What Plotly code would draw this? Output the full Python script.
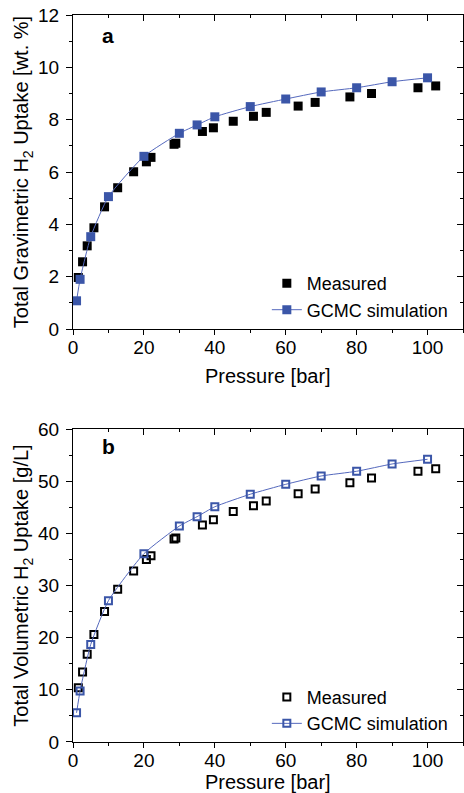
import plotly.graph_objects as go

# ---------------- data ----------------
meas_pressure = [1.5, 2.7, 4.0, 5.9, 8.9, 12.6, 17.1, 20.7, 22.0, 28.5, 29.0,
                 36.5, 39.6, 45.2, 50.9, 54.5, 63.5, 68.3, 78.1, 84.2, 97.3, 102.3]
meas_grav = [1.97, 2.57, 3.18, 3.87, 4.67, 5.40, 6.01, 6.39, 6.56, 7.06, 7.10,
             7.55, 7.69, 7.94, 8.13, 8.28, 8.52, 8.66, 8.87, 9.00, 9.22, 9.29]
meas_vol = [10.4, 13.4, 16.8, 20.6, 25.0, 29.3, 32.8, 35.0, 35.7, 38.9, 39.1,
            41.6, 42.6, 44.2, 45.3, 46.2, 47.6, 48.5, 49.7, 50.6, 51.9, 52.4]

sim_pressure = [1, 2, 5, 10, 20, 30, 35, 40, 50, 60, 70, 80, 90, 100]
sim_grav = [1.08, 1.90, 3.53, 5.06, 6.60, 7.48, 7.80, 8.11, 8.50, 8.79, 9.06, 9.22, 9.45, 9.60]
sim_vol = [5.6, 9.8, 18.7, 27.1, 36.1, 41.4, 43.2, 45.1, 47.5, 49.4, 51.0, 51.9, 53.3, 54.2]

x_range = [0, 110]
grav_range = [0, 12]
vol_range = [0, 60]

x_title = "Pressure [bar]"
grav_title = "Total Gravimetric H<sub>2</sub> Uptake [wt. %]"
vol_title = "Total Volumetric H<sub>2</sub> Uptake [g/L]"

# ---------------- styles ----------------
FONT = "Liberation Sans, Arial, sans-serif"
BLUE = "#3b56a8"
BLUE_LINE = "#5468bd"
TICKFONT = dict(family=FONT, size=19, color="black")
TITLEFONT = dict(family=FONT, size=20, color="black")

fig = go.Figure()

# Top panel (a)
fig.add_trace(go.Scatter(x=meas_pressure, y=meas_grav, mode="markers", name="Measured",
                         marker=dict(symbol="square", size=9, color="black", line=dict(width=0)),
                         xaxis="x", yaxis="y", legend="legend"))
fig.add_trace(go.Scatter(x=sim_pressure, y=sim_grav, mode="lines+markers", name="GCMC simulation",
                         line=dict(color=BLUE_LINE, width=1, shape="spline", smoothing=0.5),
                         marker=dict(symbol="square", size=9, color=BLUE, line=dict(width=0)),
                         xaxis="x", yaxis="y", legend="legend"))

# Bottom panel (b)
fig.add_trace(go.Scatter(x=meas_pressure, y=meas_vol, mode="markers", name="Measured",
                         marker=dict(symbol="square-open", size=7, color="black", line=dict(width=2)),
                         xaxis="x2", yaxis="y2", legend="legend2"))
fig.add_trace(go.Scatter(x=sim_pressure, y=sim_vol, mode="lines+markers", name="GCMC simulation",
                         line=dict(color=BLUE_LINE, width=1, shape="spline", smoothing=0.5),
                         marker=dict(symbol="square-open", size=7, color=BLUE, line=dict(width=2)),
                         xaxis="x2", yaxis="y2", legend="legend2"))

# dummy traces for mirrored inside-tick axes
for xa, ya in (("x3", "y3"), ("x4", "y4")):
    fig.add_trace(go.Scatter(x=[None], y=[None], xaxis=xa, yaxis=ya, showlegend=False,
                             hoverinfo="skip"))

top_dom = [0.568, 1.0]
bot_dom = [0.0, 0.4305]

def main_x(domain_anchor):
    return dict(range=x_range, domain=[0, 1], anchor=domain_anchor, showline=True,
                linecolor="black", linewidth=1.3, mirror=True, showgrid=False, zeroline=False,
                ticks="outside", ticklen=5, tickwidth=1.2, tickcolor="black",
                dtick=20, tick0=0, tickfont=TICKFONT, automargin=False, ticklabelstandoff=-4,
                minor=dict(ticks="outside", ticklen=3, tickwidth=1.2, tickcolor="black", dtick=10, tick0=0))

def main_y(domain, anchor, rng, dtick, minor, title):
    return dict(range=rng, domain=domain, anchor=anchor, showline=True,
                linecolor="black", linewidth=1.3, mirror=True, showgrid=False, zeroline=False,
                ticks="outside", ticklen=6, tickwidth=1.2, tickcolor="black",
                dtick=dtick, tick0=0, tickfont=TICKFONT, ticklabelstandoff=3, automargin=False,
                minor=dict(ticks="outside", ticklen=3, tickwidth=1.2, tickcolor="black", dtick=minor, tick0=0),
                title=dict(text=title, font=TITLEFONT, standoff=3))

def mirror_x(over, anchor):
    return dict(range=x_range, overlaying=over, anchor=anchor, side="top", showline=False,
                showgrid=False, zeroline=False, showticklabels=False, automargin=False,
                ticks="inside", ticklen=6, tickwidth=1.2, tickcolor="black", dtick=20, tick0=0,
                minor=dict(ticks="inside", ticklen=3, tickwidth=1.2, tickcolor="black", dtick=10, tick0=0))

def mirror_y(over, anchor, rng, dtick, minor):
    return dict(range=rng, overlaying=over, anchor=anchor, side="right", showline=False,
                showgrid=False, zeroline=False, showticklabels=False, automargin=False,
                ticks="inside", ticklen=6, tickwidth=1.2, tickcolor="black", dtick=dtick, tick0=0,
                minor=dict(ticks="inside", ticklen=3, tickwidth=1.2, tickcolor="black", dtick=minor, tick0=0))

fig.update_layout(
    width=464, height=793,
    margin=dict(l=73, r=1, t=15, b=51, autoexpand=False),
    paper_bgcolor="white", plot_bgcolor="white",
    font=dict(family=FONT, color="black"),
    xaxis=main_x("y"),
    yaxis=main_y(top_dom, "x", grav_range, 2, 1, grav_title),
    xaxis2=main_x("y2"),
    yaxis2=main_y(bot_dom, "x2", vol_range, 10, 5, vol_title),
    xaxis3=mirror_x("x", "y3"),
    yaxis3=dict(mirror_y("y", "x3", grav_range, 2, 1), domain=top_dom),
    xaxis4=mirror_x("x2", "y4"),
    yaxis4=dict(mirror_y("y2", "x4", vol_range, 10, 5), domain=bot_dom),
    legend=dict(x=0.497, y=0.656, xanchor="left", yanchor="top", bgcolor="rgba(0,0,0,0)",
                font=dict(family=FONT, size=18, color="black"), tracegroupgap=0),
    legend2=dict(x=0.497, y=0.087, xanchor="left", yanchor="top", bgcolor="rgba(0,0,0,0)",
                 font=dict(family=FONT, size=18, color="black"), tracegroupgap=0),
    annotations=[
        dict(text="<b>a</b>", x=10, y=11.2, xref="x", yref="y", showarrow=False,
             font=dict(family=FONT, size=21, color="black")),
        dict(text="<b>b</b>", x=10, y=56.6, xref="x2", yref="y2", showarrow=False,
             font=dict(family=FONT, size=21, color="black")),
        dict(text=x_title, x=0.5, xref="x domain", y=-0.151, yref="y domain",
             xanchor="center", yanchor="middle", showarrow=False, font=TITLEFONT),
        dict(text=x_title, x=0.5, xref="x2 domain", y=-0.127, yref="y2 domain",
             xanchor="center", yanchor="middle", showarrow=False, font=TITLEFONT),
    ],
    showlegend=True,
)

fig.write_html("out.html")
